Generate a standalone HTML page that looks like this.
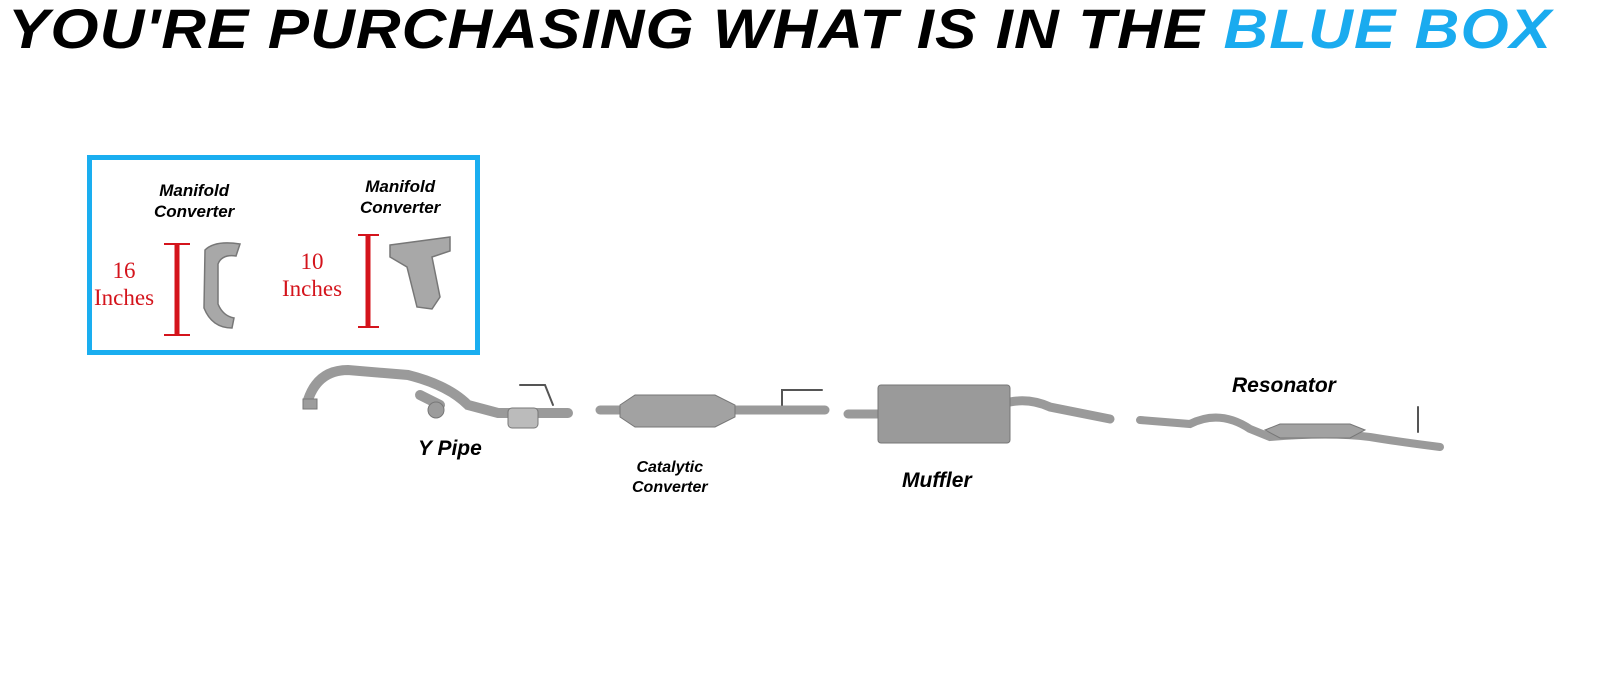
<!DOCTYPE html>
<html><head><style>
body{margin:0;width:1600px;height:685px;background:#fff;overflow:hidden;position:relative;font-family:"Liberation Sans",sans-serif}
.t{position:absolute;white-space:nowrap}
.title{left:8px;top:-4px;font-size:56px;font-weight:bold;font-style:italic;transform-origin:0 0;transform:scaleX(1.105);letter-spacing:1px}
.lbl{font-weight:bold;font-style:italic;font-size:17px;text-align:center;line-height:21px}
.red{color:#d4141c;font-family:"Liberation Serif",serif;font-size:23px;text-align:center;line-height:27px}
</style></head><body>
<div class="t title">YOU'RE PURCHASING WHAT IS IN THE <span style="color:#1aabef">BLUE BOX</span></div>
<div style="position:absolute;left:87px;top:155px;width:383px;height:190px;border:5px solid #1aaef0"></div>
<div class="t lbl" style="left:154px;top:180px">Manifold<br>Converter</div>
<div class="t lbl" style="left:360px;top:176px">Manifold<br>Converter</div>
<div class="t red" style="left:94px;top:257px">16<br>Inches</div>
<div class="t red" style="left:282px;top:248px">10<br>Inches</div>
<div class="t lbl" style="left:418px;top:438px;font-size:21px">Y Pipe</div>
<div class="t lbl" style="left:632px;top:458px;font-size:16px;line-height:20px">Catalytic<br>Converter</div>
<div class="t lbl" style="left:902px;top:470px;font-size:21px">Muffler</div>
<div class="t lbl" style="left:1232px;top:375px;font-size:21px">Resonator</div>
<svg width="1600" height="685" style="position:absolute;left:0;top:0">
<g stroke="#d4141c" stroke-width="5"><line x1="177" y1="245" x2="177" y2="334"/><line x1="368" y1="236" x2="368" y2="326"/></g>
<g stroke="#d4141c" stroke-width="2"><line x1="164" y1="244" x2="190" y2="244"/><line x1="164" y1="335" x2="190" y2="335"/><line x1="358" y1="235" x2="379" y2="235"/><line x1="358" y1="327" x2="379" y2="327"/></g>
<g fill="#a8a8a8" stroke="#777" stroke-width="1.5">
<path d="M205 250 q10-10 35-6 l-4 12 q-14-2-18 8 l0 40 q5 12 16 14 l-2 10 q-20 0-28-20 z"/>
<path d="M390 245 l60-8 0 14 -18 6 8 40 -8 12 -15-2 -10-40 -17-10z"/>
</g>
<g fill="none" stroke="#9a9a9a" stroke-linecap="round">
<path d="M308 400 q10-30 40-30 l60 5 q40 10 60 30 l30 8 l70 0" stroke-width="10"/>
<path d="M420 395 l20 10" stroke-width="10"/>
<path d="M600 410 l225 0" stroke-width="9"/>
<path d="M848 414 l30 0" stroke-width="9"/>
<path d="M1010 402 q20-4 40 5 l60 12" stroke-width="9"/>
<path d="M1140 420 l50 4 q30-15 60 5 l20 8 q60-5 100 0 q30 5 70 10" stroke-width="8"/>
<path d="M520 385 l25 0 8 20" stroke-width="2" stroke="#555"/>
<path d="M782 405 l0-15 40 0" stroke-width="2" stroke="#555"/>
<path d="M1418 407 l0 25" stroke-width="2" stroke="#555"/>
</g>
<g fill="#9c9c9c" stroke="#777">
<rect x="303" y="399" width="14" height="10"/>
<circle cx="436" cy="410" r="8"/>
<rect x="508" y="408" width="30" height="20" rx="4" fill="#bbb"/>
<path d="M620 405 l15-10 80 0 20 10 0 12 -20 10 -80 0 -15-10z" fill="#a2a2a2"/>
<rect x="878" y="385" width="132" height="58" rx="3" fill="#9a9a9a"/>
<path d="M1265 430 l15-6 70 0 15 6 -15 8 -70 0z" fill="#a2a2a2"/>
</g>
</svg>
</body></html>
